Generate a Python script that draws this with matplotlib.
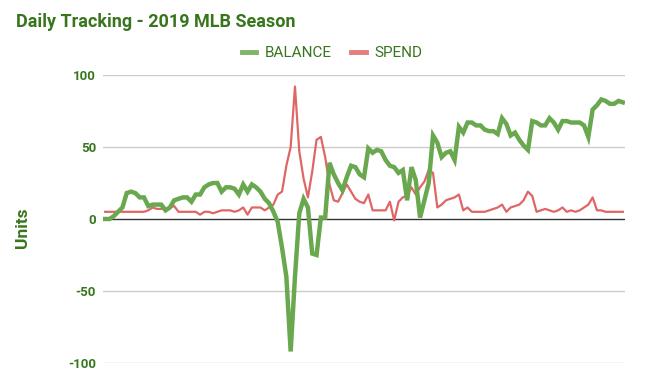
import matplotlib
matplotlib.use("Agg")
import matplotlib.pyplot as plt
from matplotlib.lines import Line2D

# daily values
balance = [0, 0, 2, 5, 8, 18, 19, 18, 15, 15, 9, 10, 10, 10, 6, 8, 13, 14, 15, 15,
           12, 17, 17, 22, 24, 25, 25, 19, 22, 22, 21, 17, 24, 19, 24, 22, 19, 14, 11, 5,
           -2, -20, -40, -92, -40, 4, 14, 8, -24, -25, 1, 1, 39, 31, 25, 20, 29, 37, 36, 31,
           29, 49, 46, 48, 47, 41, 37, 36, 32, 34, 13, 36, 27, 1, 13, 25, 58, 53, 43, 46,
           47, 41, 64, 60, 67, 67, 65, 65, 62, 61, 61, 59, 70, 66, 58, 60, 55, 51, 48, 68,
           67, 65, 65, 70, 67, 62, 68, 68, 67, 67, 67, 65, 57, 76, 79, 83, 82, 80, 80, 82, 81]
spend = [5, 5, 5, 5, 5, 5, 5, 5, 5, 5, 6, 8, 7, 7, 7, 8, 9, 5, 5, 5,
         5, 5, 3, 5, 5, 4, 5, 6, 6, 6, 5, 6, 8, 3, 8, 8, 8, 6, 8, 10,
         17, 19, 37, 50, 92, 47, 28, 15, 33, 55, 57, 43, 24, 13, 12, 18, 24, 19, 14, 12,
         11, 17, 6, 6, 6, 6, 12, -1, 12, 15, 16, 22, 17, 22, 26, 34, 32, 8, 10, 13,
         14, 15, 17, 6, 8, 5, 5, 5, 5, 6, 7, 8, 10, 5, 8, 9, 10, 13, 19, 16,
         5, 6, 7, 6, 5, 6, 8, 5, 6, 5, 6, 8, 10, 15, 6, 6, 5, 5, 5, 5, 5]
yticks = [-100, -50, 0, 50, 100]

txt = '#38761d'
fig = plt.figure(figsize=(6.64, 3.75), dpi=100)
ax = fig.add_axes([103/664, 12/375, 522/664, 288/375])

days = range(len(balance))
ax.plot(days, balance, color='#6aa84f', lw=3.2, solid_joinstyle='miter', zorder=3)
ax.plot(days, spend, color='#e06666', lw=1.6, zorder=2)

ax.set_xlim(-0.5, len(balance) - 0.5)
ax.set_ylim(-100, 100)
ax.set_yticks(yticks)
ax.set_yticklabels([str(t) for t in yticks], fontfamily='Roboto', fontweight='bold',
                   fontsize=9.5, color=txt)
ax.set_xticks([])
ax.tick_params(axis='y', length=0, pad=5)
for t in yticks:
    if t != 0:
        ax.axhline(t, color='#cccccc', lw=1, zorder=0)
ax.axhline(0, color='#333333', lw=1, zorder=1)
for s in ax.spines.values():
    s.set_visible(False)

fig.text(22/664, 1 - 228/375, 'Units', rotation=90, ha='center', va='center',
         fontfamily='Roboto', fontweight='bold', fontsize=12.5, color=txt)
fig.text(16/664, 1 - 22/375, 'Daily Tracking - 2019 MLB Season', ha='left', va='center',
         fontfamily='Roboto', fontweight='bold', fontsize=13, color=txt)

handles = [Line2D([], [], color='#6aa84f', lw=3.5, alpha=0.85),
           Line2D([], [], color='#e06666', lw=3.5, alpha=0.85)]
leg = fig.legend(handles, ['BALANCE', 'SPEND'], loc='center', bbox_to_anchor=(0.5, 1 - 53/375),
                 ncol=2, frameon=False, handlelength=0.95, handletextpad=0.55, columnspacing=1.3,
                 prop={'family': 'Roboto', 'size': 11})
for t in leg.get_texts():
    t.set_color(txt)

fig.savefig('out.png', dpi=100)
